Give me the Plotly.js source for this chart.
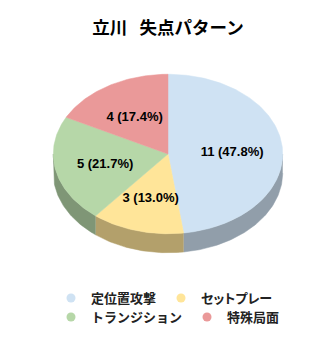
<!DOCTYPE html>
<html>
<head>
<meta charset="utf-8">
<script src="https://cdn.plot.ly/plotly-3.0.1.min.js"></script>
<style>
html,body{margin:0;padding:0;background:#fff;}
#chart{width:336px;height:342px;}
#chart .legendtext{font-feature-settings:"palt" 1;}
</style>
</head>
<body>
<div id="chart"></div>
<script>
// ---- data ----
const categories = ['定位置攻撃', 'セットプレー', 'トランジション', '特殊局面'];
const values = [11, 3, 5, 4];
const colors = ['#cfe2f3', '#ffe599', '#b6d7a8', '#ea9999'];
const sideColors = ['#919eaa', '#b3a06b', '#7f9676', '#a46b6b'];
const legendGroups = ['legend', 'legend', 'legend2', 'legend2'];
const titleText = '立川\u2002\u2009失点パターン';

// ---- geometry of the tilted pie (axis units = px) ----
const CX = 168, CY = 154, RX = 114.7, RY = 79.75, DEPTH = 19;
const LABEL_R = 0.56, LABEL_DY = 2;
const total = values.reduce((a, b) => a + b, 0);
const rad = d => d * Math.PI / 180;
function pt(deg, r, dy) {
  return [CX + RX * r * Math.sin(rad(deg)), CY - RY * r * Math.cos(rad(deg)) + dy];
}
function arc(a, b, r, dy) {
  const xs = [], ys = [];
  const n = Math.max(2, Math.ceil(Math.abs(b - a)));
  for (let i = 0; i <= n; i++) {
    const p = pt(a + (b - a) * i / n, r, dy);
    xs.push(p[0]); ys.push(p[1]);
  }
  return [xs, ys];
}

const traces = [];
const sideTraces = [], topTraces = [], labelX = [], labelY = [], labelT = [];
let cum = 0;
values.forEach((v, i) => {
  const a = cum / total * 360;
  cum += v;
  const b = cum / total * 360;
  // visible side wall (front half)
  const lo = Math.max(a, 90), hi = Math.min(b, 270);
  if (lo < hi) {
    const top = arc(lo, hi, 1, 0), bot = arc(hi, lo, 1, DEPTH);
    sideTraces.push({
      type: 'scatter', mode: 'lines', x: top[0].concat(bot[0]), y: top[1].concat(bot[1]),
      fill: 'toself', fillcolor: sideColors[i], line: {width: 0.5, color: sideColors[i]},
      showlegend: false, hoverinfo: 'skip'
    });
  }
  const t = arc(a, b, 1, 0);
  topTraces.push({
    type: 'scatter', mode: 'lines', x: [CX].concat(t[0], [CX]), y: [CY].concat(t[1], [CY]),
    fill: 'toself', fillcolor: colors[i], line: {width: 0.5, color: colors[i]},
    showlegend: false, hoverinfo: 'skip'
  });
  const m = pt((a + b) / 2, LABEL_R, LABEL_DY);
  labelX.push(m[0]); labelY.push(m[1]);
  labelT.push(v + ' (' + (v / total * 100).toFixed(1) + '%)');
});
traces.push(...sideTraces, ...topTraces);
traces.push({
  type: 'scatter', mode: 'text', x: labelX, y: labelY, text: labelT,
  textposition: 'middle center',
  textfont: {family: 'Liberation Sans, Arial, sans-serif', size: 13, color: '#000', weight: 'bold'},
  showlegend: false, hoverinfo: 'skip'
});
categories.forEach((c, i) => {
  traces.push({
    type: 'scatter', mode: 'markers', x: [null], y: [null], name: c,
    marker: {symbol: 'circle', size: 9, color: colors[i]},
    legend: legendGroups[i], showlegend: true
  });
});

const legendFont = {family: 'Noto Sans CJK JP, sans-serif', size: 13, color: '#222', weight: 'bold'};
const layout = {
  width: 336, height: 342,
  margin: {l: 0, r: 0, t: 0, b: 0},
  paper_bgcolor: '#fff', plot_bgcolor: '#fff',
  title: {
    text: titleText, x: 0.5, xanchor: 'center', y: 1 - 27.5 / 342, yanchor: 'middle',
    font: {family: 'Noto Sans CJK JP, sans-serif', size: 17.5, color: '#000', weight: 'bold'}
  },
  xaxis: {range: [0, 336], visible: false, fixedrange: true},
  yaxis: {range: [342, 0], visible: false, fixedrange: true},
  showlegend: true,
  legend: {orientation: 'h', x: 0.5, xanchor: 'center', y: 1 - 298 / 342, yanchor: 'middle',
           font: legendFont, itemclick: false, itemdoubleclick: false, bgcolor: 'rgba(0,0,0,0)'},
  legend2: {orientation: 'h', x: 0.5, xanchor: 'center', y: 1 - 317 / 342, yanchor: 'middle',
            font: legendFont, itemclick: false, itemdoubleclick: false, bgcolor: 'rgba(0,0,0,0)'},
  hovermode: false
};
Plotly.newPlot('chart', traces, layout, {displayModeBar: false, staticPlot: true});
</script>
</body>
</html>
